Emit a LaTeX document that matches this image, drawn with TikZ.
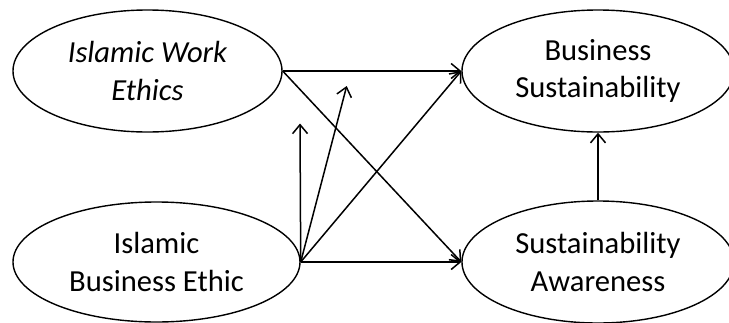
\documentclass[tikz,border=0pt]{standalone}
\usepackage{fontspec}
\setmainfont{Carlito}
\usetikzlibrary{shapes.geometric,arrows.meta}
\begin{document}
\begin{tikzpicture}[x=1pt,y=-1pt,
  oval/.style={ellipse,draw,line width=1.4pt,inner sep=0pt,align=center,
    font=\fontsize{30.6}{37.4}\selectfont},
  arr/.style={line width=1.5pt,-{Straight Barb[length=9pt,width=15pt,line width=1.5pt]}}]
\useasboundingbox (0,0) rectangle (729,322);
\node[oval,minimum width=269pt,minimum height=122pt] (iwe) at (147.5,71) {\itshape Islamic Work\\\itshape Ethics};
\node[oval,minimum width=287pt,minimum height=120pt] (ibe) at (156.5,262) {Islamic\\Business Ethic};
\node[oval,minimum width=272pt,minimum height=122pt] (bs) at (598,71) {Business\\Sustainability};
\node[oval,minimum width=272pt,minimum height=122pt] (sa) at (598,262) {Sustainability\\Awareness};
\coordinate (up) at (300,123.5);
\coordinate (sl) at (346.7,86);
\draw[arr] (iwe.east) -- (bs.west);
\draw[arr] (iwe.east) -- (sa.west);
\draw[arr] (ibe.east) -- (bs.west);
\draw[arr] (ibe.east) -- (sa.west);
\draw[arr] (ibe.east) -- (up);
\draw[arr] (ibe.east) -- (sl);
\draw[arr] (sa.north) -- (bs.south);
\end{tikzpicture}
\end{document}
